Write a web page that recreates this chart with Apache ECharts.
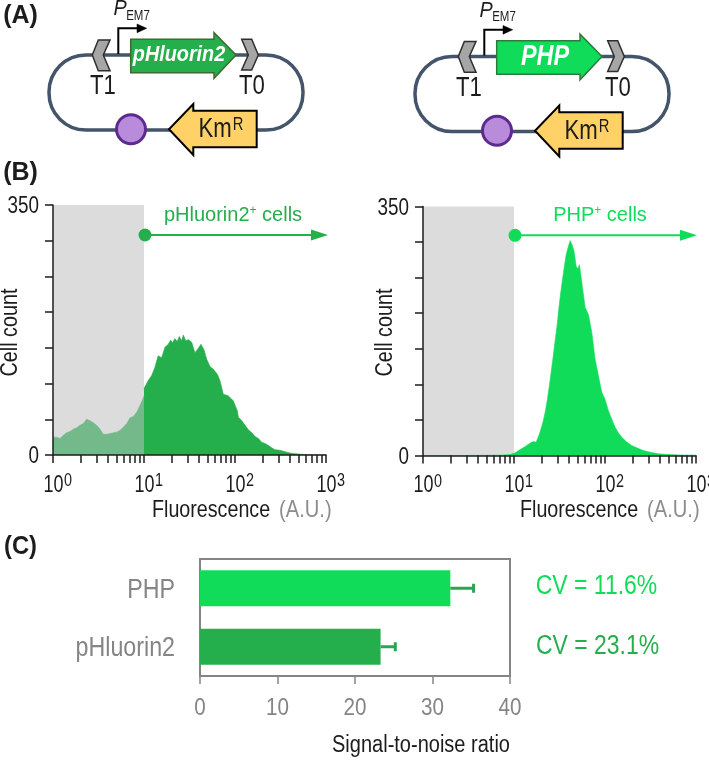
<!DOCTYPE html>
<html><head><meta charset="utf-8">
<style>html,body{margin:0;padding:0;background:#fff}#c{width:709px;height:760px}</style>
<script src="https://cdn.jsdelivr.net/npm/echarts@6/dist/echarts.min.js"></script>
</head><body><div id="c"></div>
<script>
// --- data ---
const hist1LowX  = [1,1.10,1.19,1.30,1.41,1.54,1.67,1.82,1.98,2.15,2.34,2.55,2.77,3.02,3.29,3.57,3.89,4.23,4.6,5.0,5.46,5.93,6.46,7.03,7.65,8.32,9.05,9.84,10];
const hist1LowY  = [25,25,23,27.5,31,33,36,38,41.5,44,50,48,45,41.5,36,29,29,30,31,32,34.5,39,44,52,54,60,69.5,80,83];
const hist1HighX = [10,10.2,11.1,12.1,13.2,14.3,15.6,17,18.5,19.6,20.6,21.8,23.2,24.4,25.9,27.1,28.7,30.7,33.4,36.3,38.5,42.3,45.6,48.9,53.1,57.8,64,68.4,74.4,84,95.7,106,109,118,129,140,153,166,181,196,214,232,253,275,313,355,402,457,537,640,760,1000];
const hist1HighY = [93,95,104,111,123,139,136,151,155,161,157,163,159,166,160,168,160,161.5,158,143,147.5,155,147.5,134,124,120,113,104,85,83,76,62,53,48.5,41.5,35.5,31,26,23,18,16,13.5,10,7.5,6.5,4.7,2.8,1.9,1,0.3,0,0];
const hist2X = [1,3,5,7.05,9.1,10.3,11.7,13.3,15.1,16.4,17.5,19,20.8,22,23.3,25,26.7,28.3,30,31.6,33.5,35.6,37.4,39.6,41.4,43.5,45.7,48.2,50,52.4,55.6,60.5,65.8,71.6,77.9,84.7,92.1,100,109,118.6,128.8,140,152,173,196,223,263,313,385,495,661,1000];
const hist2Y = [0,0,0.3,0.5,1.4,3.7,8.4,12.6,17.7,19.6,18.7,30,46.7,60.7,79,107,135,161,187,215,240,264,282,294,302,296,287,266,262,268,243,208,198,173,135,112,89,79,63,51,40,32,26,19,14,11,7,4.7,2.3,1.4,0.7,0.5];
const gateRange = [1, 10];
const logTicks = [1,2,3,4,5,6,7,8,9,10,20,30,40,50,60,70,80,90,100,200,300,400,500,600,700,800,900,1000];
const logLabels = [1,10,100,1000];
const countLabels = [0,350];
const snrCategories = ['PHP','pHluorin2'];
const snrMean = [32.3,23.3];
const snrUpper = [35.3,25.2];
const snrTicks = [0,10,20,30,40];
const cvLabels = ['CV = 11.6%','CV = 23.1%'];

const DARK='#25AE4C', BRIGHT='#10DC5A', LIGHT='#73B98A', GREY='#858585', INK='#1c1c1c';
const SANS='"Liberation Sans",Arial,sans-serif';
const SX=0.82;
const zip=(a,b)=>a.map((v,i)=>[v,b[i]]);

function txtEl(x,y,t,size,color,o){
  o=o||{};
  return {type:'text',x,y,scaleX:o.sx||SX,rotation:o.rot||0,z:10,
    style:{text:t,fontFamily:SANS,fontSize:size,fill:color,align:o.align||'center',verticalAlign:'middle',
           fontWeight:o.bold?'bold':'normal',fontStyle:o.italic?'italic':'normal'}};
}
function plasmid(dx,dy,name,fill,edge,ns,nsx){
  const P=(pts)=>pts.map(p=>[p[0]+dx,p[1]+dy]);
  const poly=(pts,f,s,w)=>({type:'polygon',z:10,shape:{points:P(pts)},style:{fill:f,stroke:s,lineWidth:w,lineJoin:'miter'}});
  return [
    {type:'rect',z:9,shape:{x:49+dx,y:55+dy,width:254,height:75,r:37},style:{fill:'none',stroke:'#44546A',lineWidth:3.5}},
    poly([[98.3,40],[110,40],[103.3,55],[110,70.7],[98.3,70.7],[92.3,55]],'#A6A6A6','#2e2e2e',1.5),
    poly([[241.7,39.3],[251.7,39.3],[258.3,55],[251.7,70],[241.7,70],[248.3,55]],'#A6A6A6','#2e2e2e',1.5),
    txtEl(103+dx,87+dy,'T1',27,INK),
    txtEl(252+dx,87+dy,'T0',27,INK),
    txtEl(120+dx,9+dy,'P',22,INK,{italic:true,sx:.9}),
    txtEl(138+dx,16+dy,'EM7',14,INK),
    {type:'polyline',z:10,shape:{points:P([[118.3,54],[118.3,28.3],[138,28.3]])},style:{fill:'none',stroke:'#000',lineWidth:2}},
    poly([[137,24],[146.7,28.3],[137,32.7]],'#000','#000',0.5),
    poly([[130.7,39.3],[214,39.3],[214,32.7],[236,55],[214,78.3],[214,72.7],[130.7,72.7]],fill,edge,1.5),
    txtEl(179+dx,55+dy,name,ns,'#fff',{italic:true,bold:true,sx:nsx}),
    poly([[256.7,110.7],[193.3,110.7],[193.3,104],[169,129.3],[193.3,155],[193.3,147.3],[256.7,147.3]],'#FFD166','#000',2),
    txtEl(215+dx,130+dy,'Km',27,INK),
    txtEl(238+dx,125.5+dy,'R',18,INK),
    {type:'circle',z:10,shape:{cx:131+dx,cy:129.3+dy,r:14.5},style:{fill:'#B98BDB',stroke:'#5C2A91',lineWidth:3}}
  ];
}
function gateArrow(x0,x1,y,color){
  return [
    {type:'line',z:10,shape:{x1:x0,y1:y,x2:x1-12,y2:y},style:{stroke:color,lineWidth:2}},
    {type:'circle',z:10,shape:{cx:x0,cy:y,r:6.5},style:{fill:color}},
    {type:'polygon',z:10,shape:{points:[[x1-17,y-5.5],[x1,y],[x1-17,y+5.5]]},style:{fill:color}}
  ];
}
function supLabel(x,y,t,color){
  return {type:'text',z:10,x,y,style:{align:'center',verticalAlign:'middle',text:t,
    rich:{a:{fontFamily:SANS,fontSize:20,fill:color},s:{fontFamily:SANS,fontSize:12,fill:color,padding:[0,0,8,0]}}}};
}
function fluor(x,y){
  return {type:'group',z:10,children:[
    txtEl(x,y,'Fluorescence',24,INK,{align:'left'}),
    txtEl(x+127,y,'(A.U.)',24,'#8c8c8c',{align:'left',sx:.84})]};
}

function xLog(i){return{type:'log',logBase:10,gridIndex:i,min:1,max:1000,z:5,
  axisLine:{show:true,onZero:false,lineStyle:{color:INK,width:1.5}},
  axisTick:{show:true,length:8,customValues:logTicks,lineStyle:{color:INK,width:1.5}},
  minorTick:{show:false},splitLine:{show:false},axisLabel:{show:false}};}
function yCount(i){return{type:'value',gridIndex:i,min:0,max:350,interval:50,z:5,
  axisLine:{show:true,lineStyle:{color:INK,width:1.5}},
  axisTick:{show:true,length:8,lineStyle:{color:INK,width:1.5}},splitLine:{show:false},axisLabel:{show:false}};}
const gate=(i)=>({type:'line',xAxisIndex:i,yAxisIndex:i,data:[],z:1,silent:true,
  markArea:{silent:true,itemStyle:{color:'#DCDCDC',opacity:1},data:[[{xAxis:gateRange[0],yAxis:0},{xAxis:gateRange[1],yAxis:350}]]}});
const area=(i,data,color,z)=>({type:'line',xAxisIndex:i,yAxisIndex:i,data,showSymbol:false,symbol:'none',z,silent:true,
  lineStyle:{color,width:0.6},areaStyle:{color,opacity:1}});
const labels=(i,data,renderItem)=>({type:'custom',xAxisIndex:i,yAxisIndex:i,data,silent:true,z:6,clip:false,renderItem});
const lab=(x,y,t,size,color,o)=>{const e=txtEl(x,y,t,size,color,o);delete e.z;return e;};

const logLabelSeries=(i)=>labels(i,logLabels.map(v=>[v,0]),(p,api)=>{
  const c=api.coord([api.value(0),0]);
  return {type:'group',children:[
    lab(c[0]+10.5,c[1]+30.5,'10',23,INK,{align:'right',sx:.78}),
    lab(c[0]+11,c[1]+26.5,String(Math.round(Math.log10(api.value(0)))),18,INK,{align:'left',sx:.8})]};
});
const countLabelSeries=(i)=>labels(i,countLabels.map(v=>[1,v]),(p,api)=>{
  const c=api.coord([1,api.value(1)]);
  return lab(c[0]-14,c[1]+2,String(api.value(1)),23,INK,{align:'right'});
});

const chart=echarts.init(document.getElementById('c'),null,{renderer:'canvas'});
chart.setOption({
  animation:false,backgroundColor:'#fff',
  grid:[
    {left:53,top:205,width:273,height:250,outerBoundsMode:'none',containLabel:false},
    {left:423,top:206.5,width:273,height:249,outerBoundsMode:'none',containLabel:false},
    {left:200,top:559,width:310,height:117,show:true,borderColor:'#858585',borderWidth:2,backgroundColor:'transparent',outerBoundsMode:'none',containLabel:false}
  ],
  xAxis:[xLog(0),xLog(1),
    {type:'value',gridIndex:2,min:0,max:40,interval:10,z:5,
     axisLine:{show:true,lineStyle:{color:GREY,width:2}},
     axisTick:{show:true,length:8,lineStyle:{color:GREY,width:1.5}},splitLine:{show:false},axisLabel:{show:false}}],
  yAxis:[yCount(0),yCount(1),
    {type:'category',gridIndex:2,inverse:true,data:snrCategories,
     axisLine:{show:true,lineStyle:{color:GREY,width:2}},axisTick:{show:false},axisLabel:{show:false}}],
  series:[
    gate(0),gate(1),
    area(0,zip(hist1LowX,hist1LowY),LIGHT,3),
    area(0,zip(hist1HighX,hist1HighY),DARK,3),
    area(1,zip(hist2X,hist2Y),BRIGHT,3),
    logLabelSeries(0),logLabelSeries(1),countLabelSeries(0),countLabelSeries(1),
    labels(2,snrTicks.map(v=>[v,0]),(p,api)=>{
      const c=api.coord([api.value(0),0]);
      return lab(c[0],p.coordSys.y+p.coordSys.height+32,String(api.value(0)),24,GREY,{sx:.86});
    }),
    labels(2,snrCategories.map((n,i)=>[0,i]),(p,api)=>{
      const c=api.coord([0,api.value(1)]);
      return lab(c[0]-25,c[1]+2,snrCategories[p.dataIndex],28,GREY,{align:'right',sx:.83});
    }),
    {type:'bar',xAxisIndex:2,yAxisIndex:2,barWidth:36,silent:true,
     data:snrMean.map((v,i)=>({value:v,itemStyle:{color:i===0?BRIGHT:DARK}}))},
    {type:'custom',xAxisIndex:2,yAxisIndex:2,silent:true,z:4,
     data:snrMean.map((v,i)=>[v,snrUpper[i],i]),encode:{x:[0,1],y:2},
     renderItem(p,api){
       const a=api.coord([api.value(0),api.value(2)]),b=api.coord([api.value(1),api.value(2)]);
       const st={stroke:'#2AA552',lineWidth:3};
       return{type:'group',children:[
         {type:'line',shape:{x1:a[0],y1:a[1],x2:b[0],y2:b[1]},style:st},
         {type:'line',shape:{x1:b[0],y1:b[1]-4.5,x2:b[0],y2:b[1]+4.5},style:st}]};
     }}
  ],
  graphic:[
    txtEl(20.5,16,'(A)',25,INK,{bold:true,sx:1}),
    txtEl(20.5,173,'(B)',25,INK,{bold:true,sx:1}),
    txtEl(20.5,547,'(C)',25,INK,{bold:true,sx:.95}),
    ...plasmid(0,0,'pHluorin2',DARK,'#3d6b2e',22,.9),
    ...plasmid(366,1.5,'PHP',BRIGHT,'#2d7a3a',30,.78),
    ...gateArrow(145,328,235,DARK),
    ...gateArrow(515,697,235.3,BRIGHT),
    supLabel(233,215,'{a|pHluorin2}{s|+}{a| cells}',DARK),
    supLabel(600,215,'{a|PHP}{s|+}{a| cells}',BRIGHT),
    fluor(152,510),fluor(520,510),
    txtEl(11,332.5,'Cell count',23,INK,{rot:Math.PI/2,sx:.86}),
    txtEl(386,332.5,'Cell count',23,INK,{rot:Math.PI/2,sx:.86}),
    txtEl(596.5,587,cvLabels[0],27,BRIGHT,{sx:.85}),
    txtEl(597.5,647,cvLabels[1],27,DARK,{sx:.85}),
    txtEl(421,746,'Signal-to-noise ratio',23,INK,{sx:.87})
  ]
});
</script></body></html>
